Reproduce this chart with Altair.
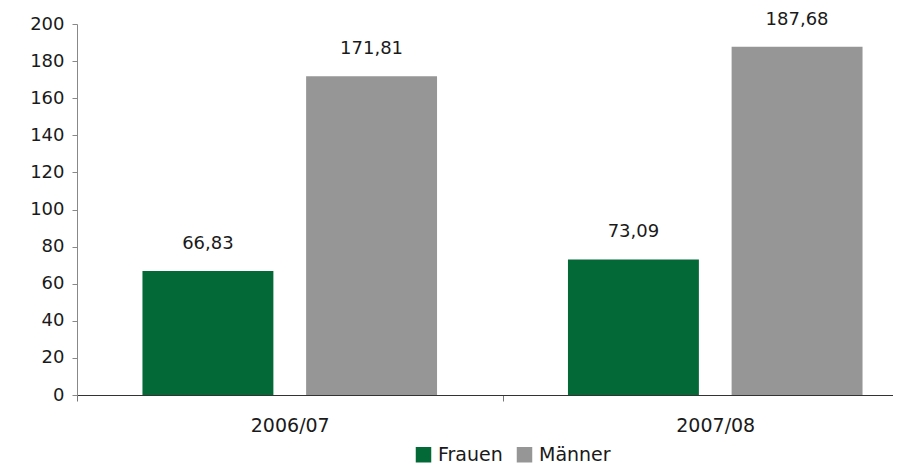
import altair as alt
import pandas as pd

years = ["2006/07", "2007/08"]
groups = ["Frauen", "Männer"]
frauen = [66.83, 73.09]
maenner = [171.81, 187.68]
colors = ["#036937", "#969696"]
y_ticks = [0, 20, 40, 60, 80, 100, 120, 140, 160, 180, 200]

rows = []
for i, yr in enumerate(years):
    rows.append({"Jahr": yr, "Geschlecht": "Frauen", "Wert": frauen[i]})
    rows.append({"Jahr": yr, "Geschlecht": "Männer", "Wert": maenner[i]})
df = pd.DataFrame(rows)
df["Label"] = df["Wert"].map(lambda v: f"{v:.2f}".replace(".", ","))

FONT = "DejaVu Sans"
TXT = "#1a1a1a"

base = alt.Chart(df).encode(
    x=alt.X(
        "Jahr:N",
        sort=years,
        scale=alt.Scale(range=[0, 851], paddingInner=0, paddingOuter=0),
        axis=alt.Axis(
            title=None, labelAngle=0, tickBand="extent", tickSize=6,
            labelFontSize=19, labelPadding=15, labelColor=TXT,
            domainColor="#333", tickColor="#777", labelFont=FONT,
        ),
    ),
    xOffset=alt.XOffset(
        "Geschlecht:N", sort=groups,
        scale=alt.Scale(paddingInner=0.2, paddingOuter=0.4),
    ),
    y=alt.Y(
        "Wert:Q",
        scale=alt.Scale(domain=[0, 200], nice=False),
        axis=alt.Axis(
            title=None, values=y_ticks, grid=False, tickSize=5,
            labelFontSize=18, labelPadding=8, labelColor=TXT,
            domainColor="#888", tickColor="#888", labelFont=FONT,
        ),
    ),
)

bars = base.mark_bar().encode(
    color=alt.Color(
        "Geschlecht:N", sort=groups,
        scale=alt.Scale(domain=groups, range=colors),
        legend=alt.Legend(
            title=None, orient="none", legendX=337, legendY=421,
            direction="horizontal", symbolType="square", symbolSize=240,
            symbolStrokeWidth=0, labelFontSize=19, labelFont=FONT,
            labelColor=TXT, columnPadding=12, labelOffset=5,
        ),
    )
)

text = base.mark_text(dy=-18, baseline="bottom", fontSize=18, font=FONT, color=TXT).encode(
    text="Label:N"
)

chart = (
    alt.layer(bars, text)
    .properties(
        width=816, height=371,
        autosize=alt.AutoSizeParams(type="none"),
        padding={"left": 69, "top": 16, "right": 0, "bottom": 70},
    )
    .configure_view(stroke=None)
)

chart.save("out.html", embed_options={"renderer": "svg", "actions": False})
